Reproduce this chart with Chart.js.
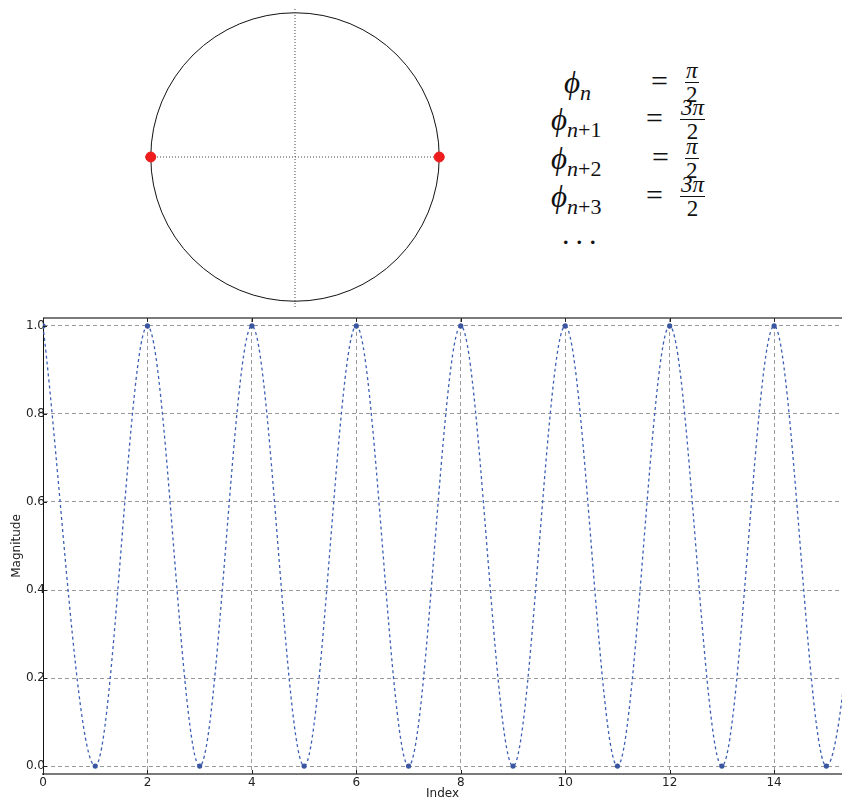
<!DOCTYPE html>
<html lang="en">
<head>
<meta charset="UTF-8">
<title>Phase circle and magnitude</title>
<script src="https://cdn.jsdelivr.net/npm/chart.js"></script>
<style>
  body { margin: 0; background: #fff; width: 842px; height: 801px; position: relative; overflow: hidden; }
  canvas { position: absolute; }
  #circleChart { left: 145px; top: 7px; }
  #magChart { left: 0; top: 310px; }
  .m { position: absolute; font-family: "Liberation Serif", "DejaVu Serif", serif; color: #111; line-height: 1; white-space: nowrap; }
  .phi { font-size: 31px; font-style: italic; }
  .phi sub { font-size: 22px; font-style: italic; vertical-align: -7px; }
  .phi sub i { font-style: normal; }
  .eq { font-size: 30px; }
  .frac { display: flex; flex-direction: column; align-items: center; font-size: 23px; }
  .frac .num { border-bottom: 1px solid #111; padding: 0 1px 0; font-style: italic; }
  .frac .den { padding-top: 0; }
</style>
</head>
<body>
<canvas id="circleChart" width="300" height="300"></canvas>
<canvas id="magChart" width="842" height="491"></canvas>

<!-- phase equations -->
<div class="m phi" style="left:564px; top:67px;">ϕ<sub>n</sub></div>
<div class="m eq" style="left:651px; top:66px;">=</div>
<div class="m frac" style="left:685px; top:59px;"><span class="num">π</span><span class="den">2</span></div>

<div class="m phi" style="left:551px; top:104px;">ϕ<sub>n<i>+1</i></sub></div>
<div class="m eq" style="left:646px; top:103px;">=</div>
<div class="m frac" style="left:680px; top:96px;"><span class="num">3π</span><span class="den">2</span></div>

<div class="m phi" style="left:551px; top:143px;">ϕ<sub>n<i>+2</i></sub></div>
<div class="m eq" style="left:652px; top:142px;">=</div>
<div class="m frac" style="left:685px; top:135px;"><span class="num">π</span><span class="den">2</span></div>

<div class="m phi" style="left:551px; top:181px;">ϕ<sub>n<i>+3</i></sub></div>
<div class="m eq" style="left:646px; top:180px;">=</div>
<div class="m frac" style="left:680px; top:173px;"><span class="num">3π</span><span class="den">2</span></div>

<div class="m eq" style="left:562px; top:219px; letter-spacing:6px;">...</div>

<script>
// ---- data ----
// top: unit circle with the two phase positions
var phaseX = [-1, 1];
var phaseY = [0, 0];
var axisReach = [-1.04, 1.04];
var circleRadius = 1;

// bottom: magnitude per index
var indexValues = [0, 1, 2, 3, 4, 5, 6, 7, 8, 9, 10, 11, 12, 13, 14, 15, 16];
var magnitudes  = [1, 0, 1, 0, 1, 0, 1, 0, 1, 0, 1, 0, 1, 0, 1, 0, 1];
var xTicks = [0, 2, 4, 6, 8, 10, 12, 14];
var yTicks = [0, 0.2, 0.4, 0.6, 0.8, 1.0];
var xRange = [0, 15.3];
var yRange = [-0.018, 1.018];

// circle drawn through the scales
var circlePlugin = {
  id: 'circle',
  beforeDatasetsDraw: function (chart) {
    var xs = chart.scales.x, ys = chart.scales.y;
    var cx = xs.getPixelForValue(0), cy = ys.getPixelForValue(0);
    var r = xs.getPixelForValue(circleRadius) - cx;
    var ctx = chart.ctx;
    ctx.save();
    ctx.strokeStyle = '#111';
    ctx.lineWidth = 1;
    ctx.beginPath();
    ctx.arc(cx, cy, r, 0, Math.PI * 2);
    ctx.stroke();
    ctx.restore();
  }
};

new Chart(document.getElementById('circleChart'), {
  type: 'scatter',
  data: {
    datasets: [
      {
        data: axisReach.map(function (v) { return { x: v, y: 0 }; }),
        showLine: true, borderColor: '#444', borderWidth: 1, borderDash: [1, 2],
        pointRadius: 0, order: 3
      },
      {
        data: axisReach.map(function (v) { return { x: 0, y: v }; }),
        showLine: true, borderColor: '#444', borderWidth: 1, borderDash: [1, 2],
        pointRadius: 0, order: 2
      },
      {
        data: phaseX.map(function (v, i) { return { x: v, y: phaseY[i] }; }),
        pointRadius: 5, pointBackgroundColor: '#ee1c1c', pointBorderColor: '#ee1c1c',
        order: 1
      }
    ]
  },
  options: {
    responsive: false,
    devicePixelRatio: 1,
    animation: false,
    layout: { padding: 0, autoPadding: false },
    plugins: { legend: { display: false }, tooltip: { enabled: false } },
    scales: {
      x: { type: 'linear', min: -1.04, max: 1.04, display: false },
      y: { type: 'linear', min: -1.04, max: 1.04, display: false }
    }
  },
  plugins: [circlePlugin]
});

// spine on top + inward tick marks, matplotlib look
var framePlugin = {
  id: 'frame',
  afterDraw: function (chart) {
    var a = chart.chartArea, ctx = chart.ctx;
    var xs = chart.scales.x, ys = chart.scales.y;
    ctx.save();
    ctx.strokeStyle = '#7a7a7a';
    ctx.lineWidth = 2;
    ctx.beginPath();
    ctx.moveTo(a.left, a.top);
    ctx.lineTo(a.right, a.top);
    ctx.stroke();
    ctx.strokeStyle = '#222';
    ctx.lineWidth = 1;
    ctx.beginPath();
    xTicks.forEach(function (v) {
      var px = Math.round(xs.getPixelForValue(v)) + 0.5;
      ctx.moveTo(px, a.bottom); ctx.lineTo(px, a.bottom - 4);
      ctx.moveTo(px, a.top); ctx.lineTo(px, a.top + 4);
    });
    yTicks.forEach(function (v) {
      var py = Math.round(ys.getPixelForValue(v)) + 0.5;
      ctx.moveTo(a.left, py); ctx.lineTo(a.left + 4, py);
    });
    ctx.stroke();
    ctx.restore();
  }
};

Chart.defaults.font.family = '"DejaVu Sans", sans-serif';
Chart.defaults.font.size = 12;
Chart.defaults.color = '#222';

new Chart(document.getElementById('magChart'), {
  type: 'line',
  data: {
    datasets: [{
      data: indexValues.map(function (v, i) { return { x: v, y: magnitudes[i] }; }),
      borderColor: '#3c5fb4',
      borderWidth: 1.3,
      borderDash: [3, 3],
      cubicInterpolationMode: 'monotone',
      pointRadius: 2.6,
      pointBackgroundColor: '#3a56a0',
      pointBorderColor: '#3a56a0',
      pointBorderWidth: 0,
      fill: false
    }]
  },
  options: {
    responsive: false,
    devicePixelRatio: 1,
    animation: false,
    layout: { padding: { top: 8, right: 0, left: 0, bottom: 0 }, autoPadding: false },
    plugins: { legend: { display: false }, tooltip: { enabled: false } },
    scales: {
      x: {
        type: 'linear', min: xRange[0], max: xRange[1],
        afterBuildTicks: function (s) { s.ticks = xTicks.map(function (v) { return { value: v }; }); },
        afterFit: function (s) { s.height = 27; },
        ticks: { padding: 2, maxRotation: 0, callback: function (v) { return String(v); } },
        grid: { color: '#9a9a9a', lineWidth: 1, drawTicks: false },
        border: { color: '#7a7a7a', width: 2, dash: [4, 3] },
        title: { display: true, text: 'Index', padding: { top: 0, bottom: 0 } }
      },
      y: {
        type: 'linear', min: yRange[0], max: yRange[1],
        afterBuildTicks: function (s) { s.ticks = yTicks.map(function (v) { return { value: v }; }); },
        afterFit: function (s) { s.width = 43; },
        ticks: { padding: -2, callback: function (v) { return v.toFixed(1); } },
        grid: { color: '#9a9a9a', lineWidth: 1, drawTicks: false },
        border: { color: '#111', width: 1, dash: [4, 3] },
        title: { display: true, text: 'Magnitude', padding: { top: 10, bottom: 0 } }
      }
    }
  },
  plugins: [framePlugin]
});
</script>
</body>
</html>
